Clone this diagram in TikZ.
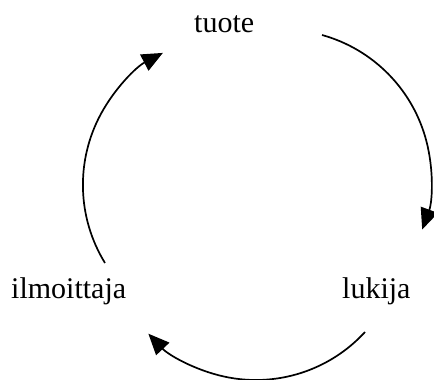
\documentclass[tikz,border=0pt]{standalone}
\usepackage{fontspec}
\setmainfont{Liberation Serif}
\usetikzlibrary{arrows.meta}
\begin{document}
\begin{tikzpicture}[x=1pt,y=1pt,
  lbl/.style={anchor=base west,inner sep=0pt,font=\fontsize{30}{36}\selectfont},
  cyc/.style={line width=1.7pt,-{Triangle[length=21pt,width=18pt]}}]
\useasboundingbox (0,0) rectangle (434,380);
\node[lbl] (tuote) at (194,347) {tuote};
\node[lbl] (ilm) at (11,81) {ilmoittaja};
\node[lbl] (luk) at (342,81) {lukija};
\coordinate (a1s) at (322,345);
\coordinate (a2s) at (365,48);
\coordinate (a3s) at (105,117);
\draw[cyc] (a1s) arc[start angle=74.5, end angle=-20, radius=149];
\draw[cyc] (a2s) arc[start angle=-42.5, end angle=-136.6, radius=148];
\draw[cyc] (a3s) arc[start angle=211.6, end angle=117.6, radius=149];
\end{tikzpicture}
\end{document}
